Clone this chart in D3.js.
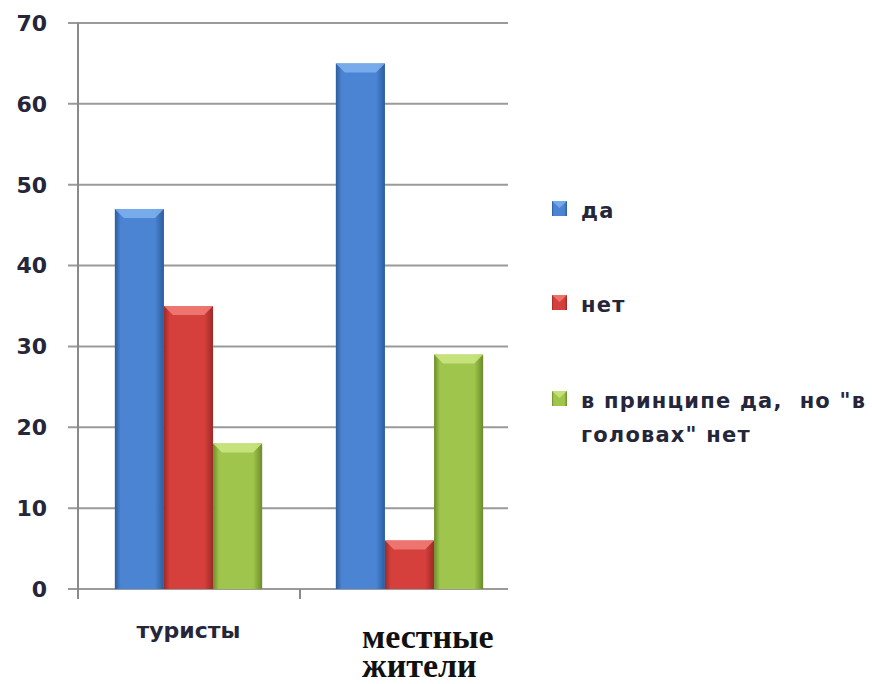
<!DOCTYPE html>
<html>
<head>
<meta charset="utf-8">
<script src="https://cdn.jsdelivr.net/npm/d3@7"></script>
<style>
  body { margin: 0; background: #fff; }
</style>
</head>
<body>
<script>
const width = 872;
const height = 684;

// data
const categories = ["туристы", "местные жители"];
const seriesNames = ["да", "нет", "в принципе да,  но \"в головах\" нет"];
const yesValues = [47, 65];
const noValues = [35, 6];
const partlyValues = [18, 29];
const yTicks = [0, 10, 20, 30, 40, 50, 60, 70];

const palette = [
    { edge: "#2b5c9e", mid: "#4a84d2", top: "#80b2f0" },
    { edge: "#9c2a27", mid: "#d6403c", top: "#f27e78" },
    { edge: "#6c8c2a", mid: "#9fc54c", top: "#cbe882" }
];

const series = [yesValues, noValues, partlyValues];

const svg = d3.select("body")
    .append("svg")
    .attr("width", width)
    .attr("height", height);

const defs = svg.append("defs");
palette.forEach(function (c, i) {
    const g = defs.append("linearGradient")
        .attr("id", "grad" + i)
        .attr("x1", "0%").attr("x2", "100%")
        .attr("y1", "0%").attr("y2", "0%");
    g.append("stop").attr("offset", "0%").attr("stop-color", c.edge);
    g.append("stop").attr("offset", "12%").attr("stop-color", c.mid);
    g.append("stop").attr("offset", "82%").attr("stop-color", c.mid);
    g.append("stop").attr("offset", "100%").attr("stop-color", c.edge);
});

const plotLeft = 78, plotRight = 508, bandRight = 520;
const textFont = "DejaVu Sans, Verdana, sans-serif";
const textColor = "#26263a";

const yScale = d3.scaleLinear()
    .domain([0, 70])
    .range([589, 23]);

const xScale = d3.scaleBand()
    .domain(categories)
    .range([plotLeft, bandRight])
    .paddingInner(0)
    .paddingOuter(0);

const xInner = d3.scaleBand()
    .domain(d3.range(seriesNames.length))
    .range([0, xScale.bandwidth()])
    .paddingOuter(0.75);

// gridlines
svg.append("g")
    .selectAll("line")
    .data(yTicks)
    .enter()
    .append("line")
    .attr("x1", plotLeft - 10)
    .attr("x2", plotRight)
    .attr("y1", d => yScale(d))
    .attr("y2", d => yScale(d))
    .attr("stroke", "#9a9a9a")
    .attr("stroke-width", 2);

// y axis line
svg.append("line")
    .attr("x1", plotLeft).attr("x2", plotLeft)
    .attr("y1", yScale(70)).attr("y2", yScale(0) + 10)
    .attr("stroke", "#8a8a8a")
    .attr("stroke-width", 2);

// category separator ticks
svg.append("g")
    .selectAll("line")
    .data(categories.slice(1))
    .enter()
    .append("line")
    .attr("x1", d => xScale(d) + 1)
    .attr("x2", d => xScale(d) + 1)
    .attr("y1", yScale(0))
    .attr("y2", yScale(0) + 10)
    .attr("stroke", "#8a8a8a")
    .attr("stroke-width", 2);

// y tick labels
svg.append("g")
    .selectAll("text")
    .data(yTicks)
    .enter()
    .append("text")
    .attr("x", 47)
    .attr("y", d => yScale(d))
    .attr("dy", "0.36em")
    .attr("text-anchor", "end")
    .attr("font-family", textFont)
    .attr("font-weight", "bold")
    .attr("font-size", 22)
    .attr("fill", textColor)
    .text(d => d);

// bars
const barData = [];
categories.forEach(function (cat, ci) {
    series.forEach(function (vals, si) {
        barData.push({ cat: cat, s: si, value: vals[ci] });
    });
});

const bars = svg.append("g")
    .selectAll("g")
    .data(barData)
    .enter()
    .append("g");

bars.append("rect")
    .attr("x", d => xScale(d.cat) + xInner(d.s))
    .attr("y", d => yScale(d.value))
    .attr("width", xInner.bandwidth())
    .attr("height", d => yScale(0) - yScale(d.value))
    .attr("fill", d => "url(#grad" + d.s + ")");

// top bevel
bars.append("path")
    .attr("d", function (d) {
        const x0 = xScale(d.cat) + xInner(d.s);
        const x1 = x0 + xInner.bandwidth();
        const y0 = yScale(d.value);
        const b = Math.min(9, (yScale(0) - y0) / 2);
        return `M${x0},${y0}L${x1},${y0}L${x1 - b},${y0 + b}L${x0 + b},${y0 + b}Z`;
    })
    .attr("fill", d => palette[d.s].top)
    .attr("opacity", 0.85);

// category labels
svg.append("text")
    .attr("x", xScale(categories[0]) + xScale.bandwidth() / 2)
    .attr("y", 638)
    .attr("text-anchor", "middle")
    .attr("font-family", textFont)
    .attr("font-weight", "bold")
    .attr("font-size", 22)
    .attr("fill", textColor)
    .text(categories[0]);

const cat2x = xScale(categories[1]) + 63;
const cat2 = svg.append("text")
    .attr("x", cat2x)
    .attr("y", 648)
    .attr("font-family", "Liberation Serif, Times New Roman, serif")
    .attr("font-weight", "bold")
    .attr("font-size", 34)
    .attr("fill", "#111");
cat2.selectAll("tspan")
    .data(categories[1].split(" "))
    .enter()
    .append("tspan")
    .attr("x", cat2x)
    .attr("dy", (d, i) => i === 0 ? 0 : 29)
    .text(d => d);

// legend
const legendY = [212, 306, 402];
const legend = svg.append("g")
    .selectAll("g")
    .data(seriesNames)
    .enter()
    .append("g")
    .attr("transform", (d, i) => `translate(552, ${legendY[i]})`);

legend.append("rect")
    .attr("x", 0)
    .attr("y", -11)
    .attr("width", 15)
    .attr("height", 15)
    .attr("fill", (d, i) => "url(#grad" + i + ")");

legend.append("path")
    .attr("d", "M0,-11L15,-11L7.5,-4Z")
    .attr("fill", (d, i) => palette[i].top)
    .attr("opacity", 0.8);

const legendText = legend.append("text")
    .attr("x", 29)
    .attr("y", 6)
    .attr("font-family", textFont)
    .attr("font-weight", "bold")
    .attr("font-size", 21)
    .attr("letter-spacing", 1.2)
    .attr("fill", textColor)
    .style("white-space", "pre");

legendText.each(function (d, i) {
    const t = d3.select(this);
    if (i === 2) {
        t.append("tspan").attr("x", 29).text("в принципе да,  но \"в");
        t.append("tspan").attr("x", 29).attr("dy", 34).text("головах\" нет");
    } else {
        t.text(d);
    }
});
</script>
</body>
</html>
